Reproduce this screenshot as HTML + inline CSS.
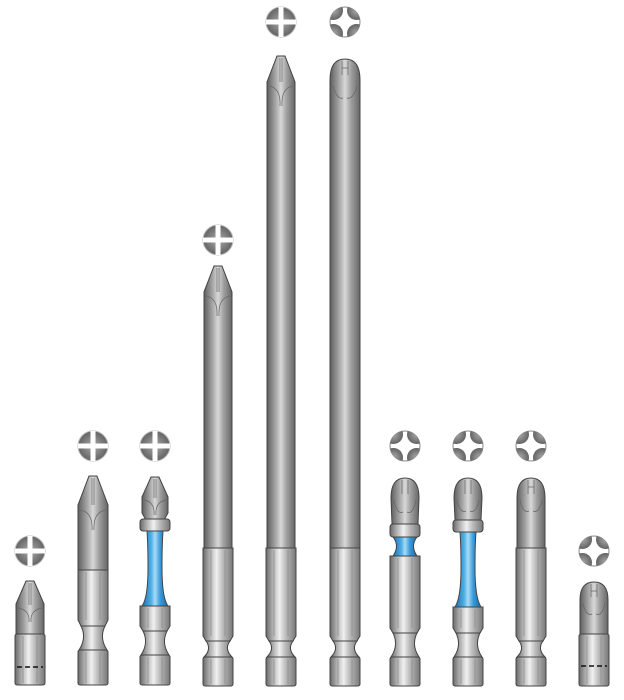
<!DOCTYPE html>
<html><head><meta charset="utf-8"><style>html,body{margin:0;padding:0;background:#fff}svg{display:block}</style></head>
<body>
<svg width="624" height="700" viewBox="0 0 624 700" xmlns="http://www.w3.org/2000/svg">
<defs>
<linearGradient id="m" x1="0" x2="1" y1="0" y2="0">
<stop offset="0" stop-color="#6a6a6a"/><stop offset="0.25" stop-color="#b8b8b8"/><stop offset="0.45" stop-color="#f0f0f0"/><stop offset="0.65" stop-color="#bdbdbd"/><stop offset="1" stop-color="#777"/>
</linearGradient>
<linearGradient id="t" x1="0" x2="1" y1="0" y2="0">
<stop offset="0" stop-color="#5e5e5e"/><stop offset="0.3" stop-color="#a5a5a5"/><stop offset="0.5" stop-color="#d8d8d8"/><stop offset="0.7" stop-color="#a0a0a0"/><stop offset="1" stop-color="#666"/>
</linearGradient>
<linearGradient id="b" x1="0" x2="1" y1="0" y2="0">
<stop offset="0" stop-color="#1a6fb0"/><stop offset="0.35" stop-color="#4eaee6"/><stop offset="0.5" stop-color="#a8dcf6"/><stop offset="0.7" stop-color="#3a9ada"/><stop offset="1" stop-color="#1a6aa8"/>
</linearGradient>
<radialGradient id="ic" cx="0.5" cy="0.5" r="0.6">
<stop offset="0" stop-color="#aaa"/><stop offset="1" stop-color="#555"/>
</radialGradient>
<g id="phil"><circle r="15" fill="url(#ic)" stroke="#bbb" stroke-width="1"/><rect x="-15" y="-2.5" width="30" height="5" fill="#fff"/><rect x="-2.5" y="-15" width="5" height="30" fill="#fff"/></g>
<clipPath id="cc"><circle r="15"/></clipPath>
<g id="pozi"><circle r="15" fill="#fff" stroke="#888" stroke-width="1"/><g clip-path="url(#cc)" fill="url(#ic)"><circle cx="-11.5" cy="-11.5" r="9.5"/><circle cx="11.5" cy="-11.5" r="9.5"/><circle cx="-11.5" cy="11.5" r="9.5"/><circle cx="11.5" cy="11.5" r="9.5"/></g></g>
</defs>
<g stroke="#444" stroke-width="1">
<!-- Bit 1 -->
<g transform="translate(30,0)">
<use href="#phil" y="551" stroke="none"/>
<path d="M-4,581 L4,581 L14,604 L14,634 L-14,634 L-14,604 Z" fill="url(#t)"/>
<path d="M-1,583 L-1,605 M1,583 L1,605 M-12,608 Q0,610 -1,622 M12,608 Q0,610 1,622" fill="none" stroke="#666" stroke-width="0.7"/>
<rect x="-15" y="634" width="30" height="51" rx="2" fill="url(#m)"/>
<path d="M-7,636 V683 M7,636 V683" stroke="#888" stroke-width="0.7"/>
<path d="M-13,667 H13" stroke="#111" stroke-width="1.5" stroke-dasharray="5,3"/>
</g>
<!-- Bit 2 -->
<g transform="translate(93,0)">
<use href="#phil" y="446" stroke="none"/>
<path d="M-4,476 L4,476 L15,505 L15,570 L-15,570 L-15,505 Z" fill="url(#t)"/>
<path d="M-1,478 V505 M1,478 V505 M-13,510 Q0,512 -1,530 M13,510 Q0,512 1,530" fill="none" stroke="#666" stroke-width="0.7"/>
<path d="M-15,570 H15 V620 L12,626 H-12 L-15,620 Z" fill="url(#m)"/>
<path d="M-7,572 V620 M7,572 V620" stroke="#888" stroke-width="0.7"/>
<path d="M-12,626 Q-6,638 -14,650 L14,650 Q6,638 12,626 Z" fill="url(#m)"/>
<rect x="-15" y="650" width="30" height="35" rx="2" fill="url(#m)"/>
<path d="M-7,652 V683 M7,652 V683" stroke="#888" stroke-width="0.7"/>
</g>
<!-- Bit 3 -->
<g transform="translate(155,0)">
<use href="#phil" y="446" stroke="none"/>
<path d="M-4,477 L4,477 L13,497 L13,513 L9,520 L-9,520 L-13,513 L-13,497 Z" fill="url(#t)"/>
<path d="M-1,479 V498 M1,479 V498 M-11,500 Q0,502 -1,515 M11,500 Q0,502 1,515" fill="none" stroke="#666" stroke-width="0.7"/>
<path d="M-8,531 Q-7,545 -7,568 Q-7,598 -13,606 L13,606 Q7,598 7,568 Q7,545 8,531 Z" fill="url(#b)"/>
<rect x="-15" y="519" width="30" height="12" rx="3" fill="url(#m)"/>
<path d="M-15,606 H15 V626 L12,631 H-12 L-15,626 Z" fill="url(#m)"/>
<path d="M-7,608 V628 M7,608 V628" stroke="#888" stroke-width="0.7"/>
<path d="M-12,631 Q-6,643 -14,655 L14,655 Q6,643 12,631 Z" fill="url(#m)"/>
<rect x="-15" y="655" width="30" height="30" rx="2" fill="url(#m)"/>
<path d="M-7,657 V683 M7,657 V683" stroke="#888" stroke-width="0.7"/>
</g>
<!-- Bit 4 -->
<g transform="translate(218,0)">
<use href="#phil" y="240" stroke="none"/>
<path d="M-4,266 L4,266 L14,292 L14,548 L-14,548 L-14,292 Z" fill="url(#t)"/>
<path d="M-1,268 V292 M1,268 V292 M-12,296 Q0,298 -1,316 M12,296 Q0,298 1,316" fill="none" stroke="#666" stroke-width="0.7"/>
<path d="M-15,548 H15 V636 L12,641 H-12 L-15,636 Z" fill="url(#m)"/>
<path d="M-7,550 V636 M7,550 V636" stroke="#888" stroke-width="0.7"/>
<path d="M-12,641 Q-6,649 -14,657 L14,657 Q6,649 12,641 Z" fill="url(#m)"/>
<rect x="-15" y="657" width="30" height="29" rx="2" fill="url(#m)"/>
<path d="M-7,659 V684 M7,659 V684" stroke="#888" stroke-width="0.7"/>
</g>
<!-- Bit 5 -->
<g transform="translate(281,0)">
<use href="#phil" y="22" stroke="none"/>
<path d="M-4,56 L4,56 L14,82 L14,548 L-14,548 L-14,82 Z" fill="url(#t)"/>
<path d="M-1,58 V82 M1,58 V82 M-12,86 Q0,88 -1,106 M12,86 Q0,88 1,106" fill="none" stroke="#666" stroke-width="0.7"/>
<path d="M-15,548 H15 V636 L12,641 H-12 L-15,636 Z" fill="url(#m)"/>
<path d="M-7,550 V636 M7,550 V636" stroke="#888" stroke-width="0.7"/>
<path d="M-12,641 Q-6,649 -14,657 L14,657 Q6,649 12,641 Z" fill="url(#m)"/>
<rect x="-15" y="657" width="30" height="29" rx="2" fill="url(#m)"/>
<path d="M-7,659 V684 M7,659 V684" stroke="#888" stroke-width="0.7"/>
</g>
<!-- Bit 6 -->
<g transform="translate(345,0)">
<use href="#pozi" y="22" stroke="none"/>
<path d="M-15,548 L-15,80 Q-15,59 0,59 Q15,59 15,80 L15,548 Z" fill="url(#t)"/>
<path d="M-3,61 V75 M3,61 V75 M-3,68 H3 M-12,86 Q-8,100 -2,98 M12,86 Q8,100 2,98" fill="none" stroke="#666" stroke-width="0.7"/>
<path d="M-15,548 H15 V636 L12,641 H-12 L-15,636 Z" fill="url(#m)"/>
<path d="M-7,550 V636 M7,550 V636" stroke="#888" stroke-width="0.7"/>
<path d="M-12,641 Q-6,649 -14,657 L14,657 Q6,649 12,641 Z" fill="url(#m)"/>
<rect x="-15" y="657" width="30" height="29" rx="2" fill="url(#m)"/>
<path d="M-7,659 V684 M7,659 V684" stroke="#888" stroke-width="0.7"/>
</g>
<!-- Bit 7 -->
<g transform="translate(405,0)">
<use href="#pozi" y="446" stroke="none"/>
<path d="M-13,524 L-14,498 Q-14,478 0,478 Q14,478 14,498 L13,524 Z" fill="url(#t)"/>
<path d="M-3,480 V494 M3,480 V494 M-11,500 Q-8,515 -2,512 M11,500 Q8,515 2,512" fill="none" stroke="#666" stroke-width="0.7"/>
<path d="M-12,537 Q-5,546 -12,556 L12,556 Q5,546 12,537 Z" fill="url(#b)"/>
<rect x="-15" y="524" width="30" height="13" rx="3" fill="url(#m)"/>
<path d="M-15,556 H15 V628 L12,633 H-12 L-15,628 Z" fill="url(#m)"/>
<path d="M-7,558 V628 M7,558 V628" stroke="#888" stroke-width="0.7"/>
<path d="M-12,633 Q-6,645 -14,657 L14,657 Q6,645 12,633 Z" fill="url(#m)"/>
<rect x="-15" y="657" width="30" height="29" rx="2" fill="url(#m)"/>
<path d="M-7,659 V684 M7,659 V684" stroke="#888" stroke-width="0.7"/>
</g>
<!-- Bit 8 -->
<g transform="translate(468,0)">
<use href="#pozi" y="446" stroke="none"/>
<path d="M-13,520 L-14,498 Q-14,478 0,478 Q14,478 14,498 L13,520 Z" fill="url(#t)"/>
<path d="M-3,480 V494 M3,480 V494 M-11,500 Q-8,514 -2,511 M11,500 Q8,514 2,511" fill="none" stroke="#666" stroke-width="0.7"/>
<path d="M-8,532 Q-7,545 -7,568 Q-7,598 -13,607 L13,607 Q7,598 7,568 Q7,545 8,532 Z" fill="url(#b)"/>
<rect x="-15" y="520" width="30" height="12" rx="3" fill="url(#m)"/>
<path d="M-15,607 H15 V628 L12,633 H-12 L-15,628 Z" fill="url(#m)"/>
<path d="M-7,609 V628 M7,609 V628" stroke="#888" stroke-width="0.7"/>
<path d="M-12,633 Q-6,645 -14,657 L14,657 Q6,645 12,633 Z" fill="url(#m)"/>
<rect x="-15" y="657" width="30" height="29" rx="2" fill="url(#m)"/>
<path d="M-7,659 V684 M7,659 V684" stroke="#888" stroke-width="0.7"/>
</g>
<!-- Bit 9 -->
<g transform="translate(531,0)">
<use href="#pozi" y="446" stroke="none"/>
<path d="M-14,548 L-14,498 Q-14,478 0,478 Q14,478 14,498 L14,548 Z" fill="url(#t)"/>
<path d="M-3,480 V494 M3,480 V494 M-3,487 H3 M-11,500 Q-8,514 -2,511 M11,500 Q8,514 2,511" fill="none" stroke="#666" stroke-width="0.7"/>
<path d="M-15,548 H15 V636 L12,641 H-12 L-15,636 Z" fill="url(#m)"/>
<path d="M-7,550 V636 M7,550 V636" stroke="#888" stroke-width="0.7"/>
<path d="M-12,641 Q-6,649 -14,657 L14,657 Q6,649 12,641 Z" fill="url(#m)"/>
<rect x="-15" y="657" width="30" height="29" rx="2" fill="url(#m)"/>
<path d="M-7,659 V684 M7,659 V684" stroke="#888" stroke-width="0.7"/>
</g>
<!-- Bit 10 -->
<g transform="translate(594,0)">
<use href="#pozi" y="551" stroke="none"/>
<path d="M-14,634 L-14,600 Q-14,582 0,582 Q14,582 14,600 L14,634 Z" fill="url(#t)"/>
<path d="M-3,584 V597 M3,584 V597 M-3,591 H3 M-11,603 Q-8,617 -2,614 M11,603 Q8,617 2,614" fill="none" stroke="#666" stroke-width="0.7"/>
<rect x="-15" y="634" width="30" height="52" rx="2" fill="url(#m)"/>
<path d="M-7,636 V684 M7,636 V684" stroke="#888" stroke-width="0.7"/>
<path d="M-13,666 H13" stroke="#111" stroke-width="1.5" stroke-dasharray="5,3"/>
</g>
</g>
</svg>
</body></html>
